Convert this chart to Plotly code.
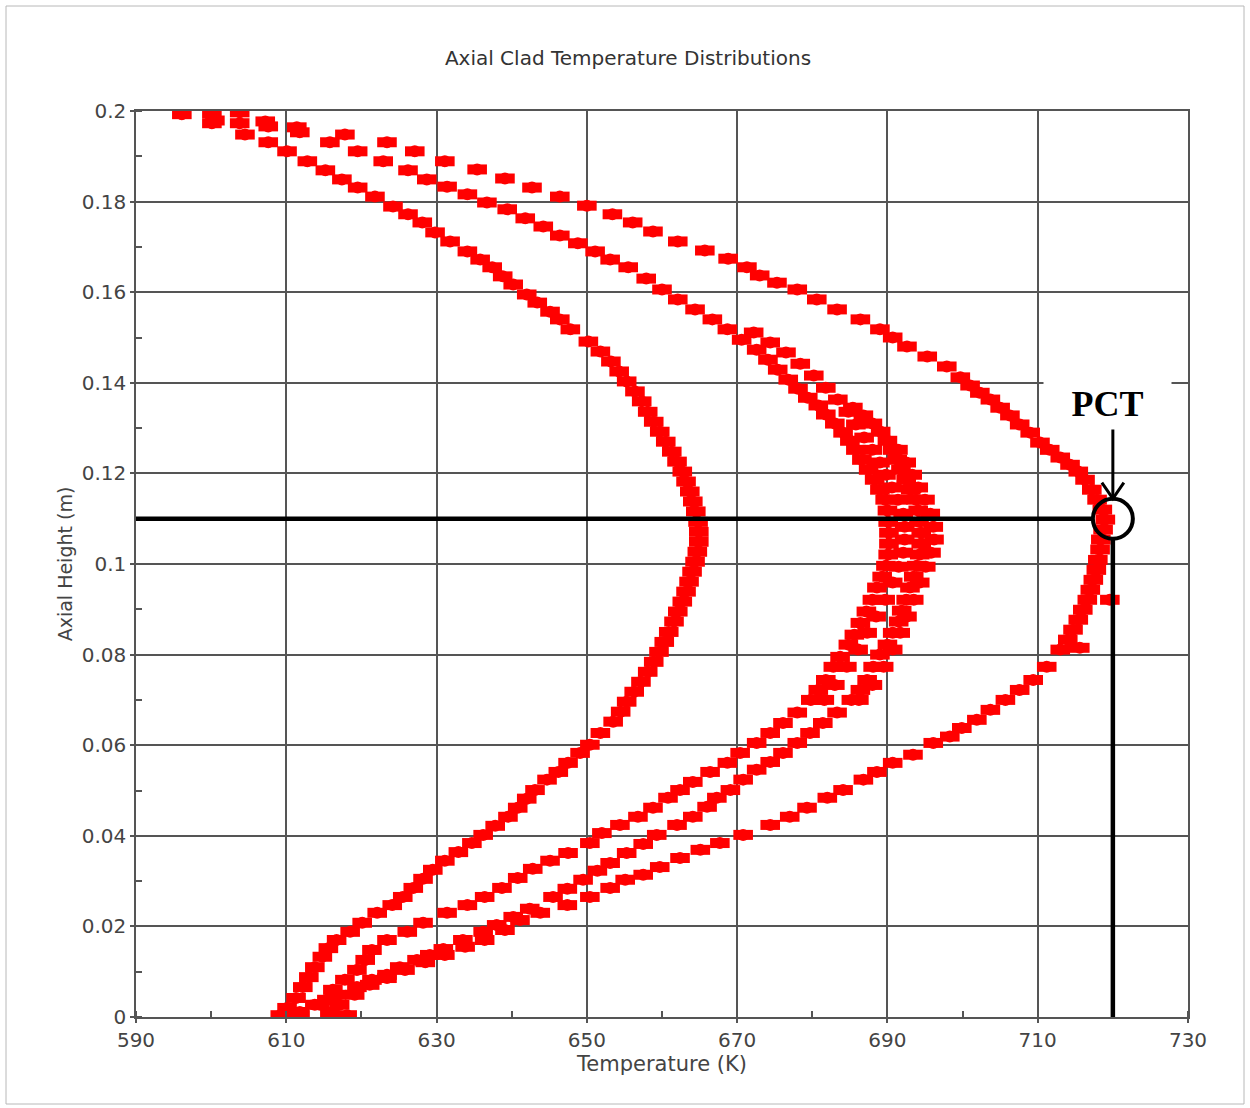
import plotly.graph_objects as go

# ---- clad temperature (K) vs axial height (m), one list pair per profile ----
a_temp = [609.2, 610.1, 611.3, 612.2, 613.0, 613.8, 614.8, 615.6, 616.7, 618.5, 620.1, 622.1, 624.1, 625.5,
          626.9, 628.2, 629.5, 631.1, 632.9, 634.7, 636.2, 637.8, 639.5, 640.8, 642.0, 643.1, 644.7, 646.2,
          647.5, 649.1, 650.4, 651.8, 653.5,
          654.5, 655.3, 656.3, 657.2, 658.1, 658.9, 659.6, 660.3, 660.9, 661.6, 662.1, 662.7, 663.2, 663.6,
          664.0, 664.4, 664.7, 664.9, 664.9, 664.8, 664.5, 664.1, 663.7, 663.2, 662.7, 662.0, 661.3, 660.5,
          659.7, 658.9, 658.1, 657.3, 656.4, 655.3, 654.3, 653.2, 651.8, 650.2,
          647.8, 646.4, 645.1, 643.4, 642.0, 640.2, 638.8, 637.4, 635.8, 634.1, 631.8, 629.8, 628.1, 626.2,
          624.2, 621.8, 619.5, 617.4, 615.2, 612.8, 610.1, 607.6, 604.5, 600.1, 596.1]
a_height = [0.0004, 0.0020, 0.0042, 0.0066, 0.0088, 0.0110, 0.0133, 0.0152, 0.0170, 0.0188, 0.0208, 0.0230,
            0.0247, 0.0265, 0.0285, 0.0305, 0.0325, 0.0345, 0.0364, 0.0384, 0.0402, 0.0422, 0.0442, 0.0462,
            0.0482, 0.0501, 0.0524, 0.0541, 0.0561, 0.0583, 0.0601, 0.0627, 0.0652,
            0.0674, 0.0696, 0.0718, 0.0740, 0.0762, 0.0784, 0.0806, 0.0828, 0.0850, 0.0873, 0.0895, 0.0917,
            0.0939, 0.0961, 0.0983, 0.1005, 0.1027, 0.1049, 0.1071, 0.1093, 0.1116, 0.1138, 0.1160, 0.1182,
            0.1204, 0.1226, 0.1248, 0.1270, 0.1292, 0.1314, 0.1336, 0.1359, 0.1381, 0.1403, 0.1425, 0.1447,
            0.1469, 0.1491,
            0.1518, 0.1540, 0.1557, 0.1577, 0.1595, 0.1617, 0.1635, 0.1655, 0.1672, 0.1690, 0.1712, 0.1732,
            0.1754, 0.1772, 0.1789, 0.1811, 0.1831, 0.1849, 0.1869, 0.1889, 0.1911, 0.1931, 0.1948, 0.1973,
            0.1993]

b_temp = [611.8, 613.8, 615.4, 616.2, 617.8, 619.4, 620.5, 621.4, 623.4, 626.1, 628.2, 631.4, 634.1, 636.4,
          638.7, 640.8, 642.8, 645.1, 647.5, 650.4, 652.0, 654.4, 656.8, 658.8, 660.8, 662.4, 664.1, 666.4,
          668.7, 670.4, 672.6, 674.4, 676.1, 678.0,
          679.8, 680.8, 681.8, 682.8, 683.7, 684.8, 685.6, 686.4, 687.2, 688.0, 688.6, 689.3, 689.8, 690.1,
          690.2, 690.2, 690.1, 690.0, 689.7, 689.0, 688.3, 687.5, 686.6, 685.8, 685.0, 684.1, 683.0, 681.8,
          680.8, 679.4, 678.1, 676.8, 675.4, 674.1, 672.6, 670.6, 668.7, 666.7, 664.4, 662.1, 660.0, 657.9,
          655.5, 653.1, 651.1, 648.8, 646.4, 644.2, 641.8, 639.4, 636.7, 634.1, 631.4, 628.7, 626.2, 622.9,
          619.5, 615.8, 611.8, 607.6, 603.8, 600.5, 600.1]
b_height = [0.0011, 0.0027, 0.0038, 0.0060, 0.0082, 0.0104, 0.0126, 0.0148, 0.0170, 0.0188, 0.0208, 0.0230,
            0.0247, 0.0265, 0.0285, 0.0307, 0.0327, 0.0345, 0.0362, 0.0384, 0.0406, 0.0424, 0.0442, 0.0462,
            0.0484, 0.0501, 0.0519, 0.0541, 0.0561, 0.0583, 0.0605, 0.0627, 0.0649, 0.0672,
            0.0700, 0.0722, 0.0744, 0.0773, 0.0795, 0.0822, 0.0844, 0.0870, 0.0895, 0.0921, 0.0948, 0.0972,
            0.0996, 0.1021, 0.1045, 0.1069, 0.1093, 0.1118, 0.1142, 0.1164, 0.1186, 0.1208, 0.1230, 0.1252,
            0.1272, 0.1290, 0.1310, 0.1330, 0.1350, 0.1367, 0.1387, 0.1407, 0.1429, 0.1451, 0.1473, 0.1495,
            0.1518, 0.1540, 0.1562, 0.1584, 0.1606, 0.1630, 0.1655, 0.1672, 0.1690, 0.1708, 0.1725, 0.1745,
            0.1763, 0.1783, 0.1798, 0.1816, 0.1833, 0.1849, 0.1869, 0.1889, 0.1911, 0.1931, 0.1953, 0.1966,
            0.1973, 0.1979, 0.1995]

b2_temp = [681.6, 683.0, 684.6, 686.1, 687.3, 688.5, 689.7, 690.7, 691.5, 692.1, 692.3, 692.3, 692.1, 691.4,
           690.6, 689.8, 689.0, 688.0, 686.9, 685.8, 684.8, 683.4, 681.8, 680.2, 678.4, 676.5, 674.4, 672.2]
b2_height = [0.0700, 0.0733, 0.0773, 0.0811, 0.0848, 0.0884, 0.0921, 0.0959, 0.0994, 0.1025, 0.1054, 0.1082,
             0.1111, 0.1142, 0.1169, 0.1197, 0.1224, 0.1252, 0.1279, 0.1308, 0.1336, 0.1363, 0.1389, 0.1416,
             0.1442, 0.1467, 0.1489, 0.1511]

c_temp = [611.8, 614.5, 616.7, 619.4, 621.4, 623.4, 625.1, 627.4, 629.1, 630.9, 633.5, 636.2, 638.0, 640.2,
          642.4, 645.5, 647.4, 649.5, 651.4, 653.1, 655.3, 657.5, 659.3, 662.0, 664.1, 666.0, 667.3, 669.1,
          670.8, 672.6, 674.4, 676.1, 678.0, 679.7, 681.4, 683.3, 685.2, 686.4, 687.3, 688.1, 689.0, 690.0,
          690.7, 691.5, 691.9, 692.5, 693.0, 693.5, 693.9, 694.3, 694.5, 694.5, 694.2, 694.1, 693.8, 693.1,
          692.5, 691.8, 691.3, 690.7, 690.0, 689.1, 688.0, 686.8, 685.4]
c_height = [0.0004, 0.0027, 0.0049, 0.0066, 0.0082, 0.0093, 0.0110, 0.0126, 0.0137, 0.0150, 0.0170, 0.0188,
            0.0203, 0.0221, 0.0239, 0.0265, 0.0283, 0.0303, 0.0323, 0.0340, 0.0362, 0.0382, 0.0402, 0.0424,
            0.0442, 0.0464, 0.0484, 0.0501, 0.0524, 0.0546, 0.0563, 0.0583, 0.0605, 0.0627, 0.0649, 0.0672,
            0.0700, 0.0722, 0.0744, 0.0773, 0.0800, 0.0822, 0.0848, 0.0873, 0.0897, 0.0921, 0.0948, 0.0972,
            0.0996, 0.1021, 0.1045, 0.1069, 0.1093, 0.1118, 0.1142, 0.1164, 0.1186, 0.1208, 0.1230, 0.1252,
            0.1272, 0.1292, 0.1310, 0.1328, 0.1345]

c2_temp = [686.2, 688.0, 689.5, 690.7, 691.7, 692.6, 693.5, 694.3, 695.1, 695.8, 696.2, 696.1, 695.7, 695.0,
           694.1, 693.3, 692.5, 691.4]
c2_height = [0.0700, 0.0733, 0.0773, 0.0811, 0.0848, 0.0884, 0.0921, 0.0959, 0.0994, 0.1025, 0.1054, 0.1082,
             0.1111, 0.1142, 0.1169, 0.1197, 0.1224, 0.1252]

e_temp = [615.8, 618.1, 617.1, 619.1, 621.1, 623.4, 625.8, 628.5, 631.1, 633.8, 636.4, 639.1, 641.1, 643.8,
          647.4, 650.4, 653.1, 655.1, 657.5, 659.7, 662.4, 665.1, 667.7, 670.8, 674.4, 677.0, 679.3, 682.0,
          684.1, 686.8, 688.6, 690.7, 693.4, 696.1, 698.3, 699.9, 701.9, 703.7, 705.7, 707.6, 709.4, 711.2,
          713.0, 714.0, 714.7, 715.4, 716.0, 716.6, 717.0, 717.4, 717.8, 718.0, 718.3, 718.4, 718.7, 719.0,
          718.6, 717.9, 717.2, 716.3, 715.4, 714.3, 713.0, 711.6, 710.3, 709.0, 707.6, 706.3, 705.0, 703.7,
          702.3, 701.0, 699.7, 697.9, 695.3, 692.6, 690.7, 689.0, 686.4, 683.3, 680.6, 678.0, 675.3, 673.0,
          671.3, 668.8, 665.7, 662.1, 658.8, 656.1, 653.4, 650.0, 646.4, 642.7, 639.1, 635.4, 631.1, 627.1,
          623.4, 617.8, 611.4, 607.2, 603.8, 719.6, 715.6]
e_height = [0.0009, 0.0004, 0.0027, 0.0049, 0.0071, 0.0086, 0.0104, 0.0121, 0.0137, 0.0155, 0.0170, 0.0192,
            0.0214, 0.0230, 0.0247, 0.0265, 0.0285, 0.0303, 0.0314, 0.0331, 0.0351, 0.0369, 0.0384, 0.0402,
            0.0424, 0.0442, 0.0462, 0.0484, 0.0501, 0.0524, 0.0541, 0.0561, 0.0579, 0.0605, 0.0619, 0.0638,
            0.0656, 0.0678, 0.0700, 0.0722, 0.0744, 0.0773, 0.0811, 0.0833, 0.0855, 0.0877, 0.0899, 0.0921,
            0.0943, 0.0965, 0.0987, 0.1009, 0.1032, 0.1054, 0.1076, 0.1098, 0.1120, 0.1142, 0.1164, 0.1186,
            0.1204, 0.1219, 0.1235, 0.1252, 0.1268, 0.1290, 0.1308, 0.1328, 0.1345, 0.1363, 0.1378, 0.1394,
            0.1412, 0.1436, 0.1458, 0.1480, 0.1500, 0.1518, 0.1540, 0.1562, 0.1584, 0.1606, 0.1621, 0.1637,
            0.1655, 0.1674, 0.1692, 0.1712, 0.1734, 0.1754, 0.1772, 0.1791, 0.1811, 0.1831, 0.1851, 0.1871,
            0.1889, 0.1911, 0.1931, 0.1948, 0.1964, 0.1977, 0.1997, 0.0921, 0.0815]

# peak clad temperature point
pct_temp = 720.0
pct_height = 0.11

x_range = [590, 730]
y_range = [0, 0.2]
x_ticks = [590, 610, 630, 650, 670, 690, 710, 730]
y_ticks = [0, 0.02, 0.04, 0.06, 0.08, 0.1, 0.12, 0.14, 0.16, 0.18, 0.2]
y_tick_labels = ["0", "0.02", "0.04", "0.06", "0.08", "0.1", "0.12", "0.14", "0.16", "0.18", "0.2"]

# ---- figure geometry ----
W, H = 1250, 1108
M_L, M_R, M_T, M_B = 136, 62, 111, 91
plot_w = W - M_L - M_R
plot_h = H - M_T - M_B
px_per_k = plot_w / (x_range[1] - x_range[0])
px_per_m = plot_h / (y_range[1] - y_range[0])

RED = "#ff0000"
GRID = "#555555"
TXT = "#444444"
FONT = "DejaVu Sans"

fig = go.Figure()
profiles = [
    ("profile 1", a_temp, a_height),
    ("profile 2", b_temp, b_height),
    ("profile 2b", b2_temp, b2_height),
    ("profile 3", c_temp, c_height),
    ("profile 3b", c2_temp, c2_height),
    ("profile 4", e_temp, e_height),
]
for name, t, z in profiles:
    # wide, flat blobs: a round dot under a thick horizontal dash
    fig.add_trace(go.Scatter(
        x=t, y=z, mode="markers", name=name, showlegend=False, hoverinfo="skip",
        marker=dict(symbol="circle", size=12, color=RED, line=dict(width=0)),
    ))
    fig.add_trace(go.Scatter(
        x=t, y=z, mode="markers", name=name, showlegend=False,
        marker=dict(symbol="line-ew", size=14, color=RED, line=dict(color=RED, width=10)),
    ))

# PCT marker geometry (pixel sizes converted to data units)
r_x = 20 / px_per_k
r_y = 20 / px_per_m
shaft_top = pct_height + 92 / px_per_m
tip = pct_height + r_y
arm_dx = 11 / px_per_k
arm_dy = 16 / px_per_m

shapes = [
    # page frame
    dict(type="rect", xref="paper", yref="paper",
         x0=(6 - M_L) / plot_w, x1=(W - 6 - M_L) / plot_w,
         y0=-(M_B - 4) / plot_h, y1=1 + (M_T - 6) / plot_h,
         line=dict(color="#b8b8b8", width=1), layer="below"),
    # horizontal guide to PCT
    dict(type="line", xref="x", yref="y", x0=x_range[0], x1=pct_temp - r_x,
         y0=pct_height, y1=pct_height, line=dict(color="black", width=4.5)),
    # vertical guide from PCT down to the axis
    dict(type="line", xref="x", yref="y", x0=pct_temp, x1=pct_temp,
         y0=y_range[0], y1=pct_height - r_y, line=dict(color="black", width=4.5)),
    # circle round the PCT point
    dict(type="circle", xref="x", yref="y",
         x0=pct_temp - r_x, x1=pct_temp + r_x, y0=pct_height - r_y, y1=pct_height + r_y,
         line=dict(color="black", width=4)),
    # arrow shaft and open head
    dict(type="line", xref="x", yref="y", x0=pct_temp, x1=pct_temp, y0=shaft_top, y1=tip,
         line=dict(color="black", width=3)),
    dict(type="path", xref="x", yref="y",
         path=f"M {pct_temp - arm_dx} {tip + arm_dy} L {pct_temp} {tip} L {pct_temp + arm_dx} {tip + arm_dy}",
         line=dict(color="black", width=3)),
]

fig.update_layout(
    width=W, height=H, autosize=False,
    margin=dict(l=M_L, r=M_R, t=M_T, b=M_B, pad=0),
    paper_bgcolor="white", plot_bgcolor="white",
    title=dict(text="Axial Clad Temperature Distributions", x=(628 - M_L) / plot_w, xref="paper",
               xanchor="center", y=1 - 58 / H, yref="container", yanchor="middle",
               font=dict(family=FONT, size=20, color="#333333")),
    shapes=shapes,
    annotations=[
        dict(text="<b>PCT</b>", x=pct_temp, y=pct_height, xref="x", yref="y",
             xshift=-5, yshift=115, showarrow=False, width=125, height=48,
             bgcolor="white", font=dict(family="Liberation Serif", size=36, color="black")),
    ],
    font=dict(family=FONT, color=TXT),
)

fig.update_xaxes(
    range=x_range, tickmode="array", tickvals=x_ticks, ticktext=[str(v) for v in x_ticks],
    showgrid=True, gridcolor=GRID, gridwidth=1.5, zeroline=False,
    showline=True, linecolor=GRID, linewidth=1.5, mirror=True,
    ticks="outside", ticklen=4, tickcolor=GRID, tickwidth=1.5,
    tickfont=dict(family=FONT, size=20, color=TXT),
    minor=dict(dtick=10, tick0=590, ticks="inside", ticklen=6, tickcolor=GRID, tickwidth=1.5, showgrid=False),
    title=dict(text="Temperature (K)", font=dict(family=FONT, size=21, color=TXT), standoff=6),
)
fig.update_yaxes(
    range=y_range, tickmode="array", tickvals=y_ticks, ticktext=y_tick_labels,
    showgrid=True, gridcolor=GRID, gridwidth=1.5, zeroline=False,
    showline=True, linecolor=GRID, linewidth=1.5, mirror=True,
    ticks="outside", ticklen=4, tickcolor=GRID, tickwidth=1.5,
    tickfont=dict(family=FONT, size=20, color=TXT),
    minor=dict(dtick=0.01, tick0=0, ticks="inside", ticklen=6, tickcolor=GRID, tickwidth=1.5, showgrid=False),
    title=dict(text="Axial Height (m)", font=dict(family=FONT, size=19, color=TXT), standoff=4),
)

fig.write_html("out.html")
